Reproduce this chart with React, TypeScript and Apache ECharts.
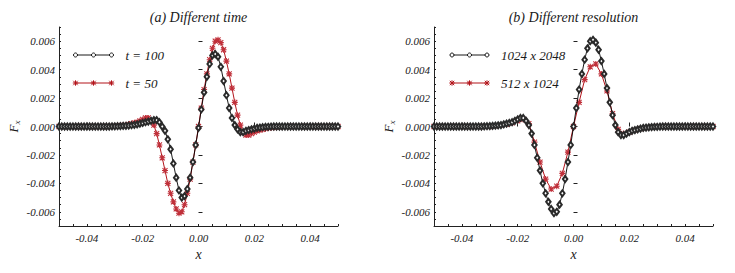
import React, { useEffect, useRef } from 'react';
import * as echarts from 'echarts';

// sampling positions (uniform meshes)
const X_FINE = [
  -0.050, -0.049, -0.048, -0.047, -0.046, -0.045, -0.044, -0.043, -0.042, -0.041,
  -0.040, -0.039, -0.038, -0.037, -0.036, -0.035, -0.034, -0.033, -0.032, -0.031,
  -0.030, -0.029, -0.028, -0.027, -0.026, -0.025, -0.024, -0.023, -0.022, -0.021,
  -0.020, -0.019, -0.018, -0.017, -0.016, -0.015, -0.014, -0.013, -0.012, -0.011,
  -0.010, -0.009, -0.008, -0.007, -0.006, -0.005, -0.004, -0.003, -0.002, -0.001,
  0.000, 0.001, 0.002, 0.003, 0.004, 0.005, 0.006, 0.007, 0.008, 0.009,
  0.010, 0.011, 0.012, 0.013, 0.014, 0.015, 0.016, 0.017, 0.018, 0.019,
  0.020, 0.021, 0.022, 0.023, 0.024, 0.025, 0.026, 0.027, 0.028, 0.029,
  0.030, 0.031, 0.032, 0.033, 0.034, 0.035, 0.036, 0.037, 0.038, 0.039,
  0.040, 0.041, 0.042, 0.043, 0.044, 0.045, 0.046, 0.047, 0.048, 0.049,
  0.050,
];
const X_COARSE = [
  -0.050, -0.048, -0.046, -0.044, -0.042, -0.040, -0.038, -0.036, -0.034, -0.032,
  -0.030, -0.028, -0.026, -0.024, -0.022, -0.020, -0.018, -0.016, -0.014, -0.012,
  -0.010, -0.008, -0.006, -0.004, -0.002, 0.000, 0.002, 0.004, 0.006, 0.008,
  0.010, 0.012, 0.014, 0.016, 0.018, 0.020, 0.022, 0.024, 0.026, 0.028,
  0.030, 0.032, 0.034, 0.036, 0.038, 0.040, 0.042, 0.044, 0.046, 0.048,
  0.050,
];

// (a) Different time
const T100 = [
  0, 0, 0, 0, 0, 0, 0, 0, 0, 0,
  0, 0, 0, 0, 0, 0, 0, 0, 0, 0.00001,
  0.00001, 0.00002, 0.00003, 0.00004, 0.00005, 0.00007, 0.00009, 0.00012, 0.00015, 0.0002,
  0.00025, 0.0003, 0.00035, 0.0004, 0.00045, 0.00045, 0.0003, 0.0, -0.0003, -0.0009,
  -0.0016, -0.0026, -0.0036, -0.0045, -0.0050, -0.0049, -0.0044, -0.0036, -0.0025, -0.0013,
  -0.0001, 0.0012, 0.0024, 0.0035, 0.0044, 0.0050, 0.0051, 0.0049, 0.0042, 0.0032,
  0.0022, 0.0013, 0.0006, 0.0001, -0.0002, -0.0004, -0.0004, -0.0003, -0.00025, -0.0002,
  -0.00015, -0.0001, -0.00008, -0.00005, -0.00003, -0.00002, -0.00001, 0, 0, 0,
  0, 0, 0, 0, 0, 0, 0, 0, 0, 0,
  0, 0, 0, 0, 0, 0, 0, 0, 0, 0,
  0,
];
const T50 = [
  0, 0, 0, 0, 0, 0, 0, 0, 0, 0,
  0, 0, 0, 0, 0, 0, 0, 0, 0.00001, 0.00002,
  0.00003, 0.00004, 0.00006, 0.00008, 0.0001, 0.00015, 0.0002, 0.00025, 0.0003, 0.0004,
  0.0005, 0.0006, 0.0006, 0.0004, 0.0001, -0.0005, -0.0013, -0.0022, -0.0031, -0.0040,
  -0.0047, -0.0053, -0.0058, -0.0061, -0.0060, -0.0055, -0.0047, -0.0037, -0.0025, -0.0013,
  0.0, 0.0013, 0.0026, 0.0037, 0.0047, 0.0055, 0.0060, 0.0061, 0.0059, 0.0054,
  0.0046, 0.0037, 0.0027, 0.0017, 0.0008, 0.0001, -0.0004, -0.0006, -0.0006, -0.0005,
  -0.0004, -0.0003, -0.00025, -0.0002, -0.00015, -0.0001, -0.00008, -0.00006, -0.00004, -0.00003,
  -0.00002, -0.00001, 0, 0, 0, 0, 0, 0, 0, 0,
  0, 0, 0, 0, 0, 0, 0, 0, 0, 0,
  0,
];

// (b) Different resolution
const RES_1024 = [
  0, 0, 0, 0, 0, 0, 0, 0, 0, 0,
  0, 0, 0, 0, 0, 0, 0, 0, 0.00001, 0.00002,
  0.00003, 0.00004, 0.00006, 0.00008, 0.0001, 0.00015, 0.0002, 0.00025, 0.0003, 0.0004,
  0.0005, 0.0006, 0.0006, 0.0004, 0.0001, -0.0005, -0.0013, -0.0022, -0.0031, -0.0040,
  -0.0047, -0.0053, -0.0058, -0.0061, -0.0060, -0.0055, -0.0047, -0.0037, -0.0025, -0.0013,
  0.0, 0.0013, 0.0026, 0.0037, 0.0047, 0.0055, 0.0060, 0.0061, 0.0059, 0.0054,
  0.0046, 0.0037, 0.0027, 0.0017, 0.0008, 0.0001, -0.0004, -0.0006, -0.0006, -0.0005,
  -0.0004, -0.0003, -0.00025, -0.0002, -0.00015, -0.0001, -0.00008, -0.00006, -0.00004, -0.00003,
  -0.00002, -0.00001, 0, 0, 0, 0, 0, 0, 0, 0,
  0, 0, 0, 0, 0, 0, 0, 0, 0, 0,
  0,
];
const RES_512 = [
  0, 0, 0, 0, 0, 0, 0, 0, 0, 0,
  0, 0.00003, 0.0001, 0.00015, 0.00025, 0.0004, 0.0005, 0.0002, -0.0011, -0.0025,
  -0.0037, -0.0044, -0.0042, -0.0033, -0.0018, 0.0, 0.0017, 0.0033, 0.0042, 0.0044,
  0.0037, 0.0025, 0.0009, -0.0002, -0.0005, -0.0004, -0.00025, -0.00015, -0.0001, -0.00003,
  0, 0, 0, 0, 0, 0, 0, 0, 0, 0,
  0,
];

const X_MAJOR_TICKS = [-0.04, -0.02, 0, 0.02, 0.04];
const Y_MAJOR_TICKS = [-0.006, -0.004, -0.002, 0, 0.002, 0.004, 0.006];
const TITLES = ['(a) Different time', '(b) Different resolution'];
const LEGEND_A = ['t = 100', 't = 50'];
const LEGEND_B = ['1024 x 2048', '512 x 1024'];

const FONT = 'Liberation Serif';
const BLACK = '#000000';
const RED = '#b3141b';
const AXIS = '#222222';
const TEXT = '#1a1a1a';
const ASTERISK = 'path://M0,0L10,10M10,0L0,10M5,-1L5,11M-1,5L11,5';

const GRIDS = [
  { left: 59, top: 27, width: 279, height: 199 },
  { left: 434, top: 27, width: 279, height: 199 },
];

const pairs = (xs: number[], ys: number[]) => xs.map((x, i) => [x, ys[i]]);
const isMult = (v: number, step: number) => Math.abs(v / step - Math.round(v / step)) < 1e-6;
const fmt = (v: number, d: number) => (Math.abs(v) < 1e-12 ? (0).toFixed(d) : v.toFixed(d));

const labelStyle = { fontFamily: FONT, fontStyle: 'italic', fontSize: 11, color: TEXT };

function xMain(g: number) {
  return {
    type: 'value', gridIndex: g, min: -0.05, max: 0.05, interval: 0.005, position: 'bottom',
    axisLine: { show: true, onZero: false, lineStyle: { color: AXIS, width: 1 } },
    axisTick: { show: true, inside: true, length: 2, lineStyle: { color: AXIS, width: 1 } },
    axisLabel: { ...labelStyle, margin: 6, formatter: (v: number) => (isMult(v, 0.02) ? fmt(v, 2) : '') },
    splitLine: { show: false },
    name: 'x', nameLocation: 'middle', nameGap: 15,
    nameTextStyle: { fontFamily: FONT, fontStyle: 'italic', fontSize: 14, color: TEXT },
  };
}
function xMajor(g: number) {
  return {
    type: 'value', gridIndex: g, min: -0.05, max: 0.05, position: 'bottom',
    axisLine: { show: false },
    axisTick: { show: true, inside: true, length: 4, customValues: X_MAJOR_TICKS, lineStyle: { color: AXIS, width: 1 } },
    axisLabel: { show: false },
    splitLine: { show: false },
  };
}
function yMain(g: number) {
  return {
    type: 'value', gridIndex: g, min: -0.007, max: 0.007, interval: 0.0005, position: 'left',
    axisLine: { show: true, onZero: false, lineStyle: { color: AXIS, width: 1 } },
    axisTick: { show: true, inside: true, length: 2, lineStyle: { color: AXIS, width: 1 } },
    axisLabel: { ...labelStyle, margin: 4, formatter: (v: number) => (isMult(v, 0.002) ? fmt(v, 3) : '') },
    splitLine: { show: false },
    name: '{a|F}{b|x}', nameLocation: 'middle', nameGap: 38, nameRotate: 90,
    nameTextStyle: {
      rich: {
        a: { fontFamily: FONT, fontStyle: 'italic', fontSize: 13, color: TEXT },
        b: { fontFamily: FONT, fontStyle: 'italic', fontSize: 9, color: TEXT, padding: [7, 0, 0, 0] },
      },
    },
  };
}
function yMajor(g: number) {
  return {
    type: 'value', gridIndex: g, min: -0.007, max: 0.007, position: 'left',
    axisLine: { show: false },
    axisTick: { show: true, inside: true, length: 4, customValues: Y_MAJOR_TICKS, lineStyle: { color: AXIS, width: 1 } },
    axisLabel: { show: false },
    splitLine: { show: false },
  };
}

function blackSeries(axis: number, xs: number[], ys: number[]) {
  return {
    type: 'line', xAxisIndex: axis, yAxisIndex: axis, data: pairs(xs, ys),
    symbol: 'emptyDiamond', symbolSize: [4.5, 6],
    lineStyle: { color: BLACK, width: 0.9 },
    itemStyle: { color: '#2a2a2a', borderColor: '#2a2a2a', borderWidth: 0.7 },
    z: 4, silent: true,
  };
}
function redSeries(axis: number, xs: number[], ys: number[]) {
  return {
    type: 'line', xAxisIndex: axis, yAxisIndex: axis, data: pairs(xs, ys),
    symbol: ASTERISK, symbolSize: 6,
    lineStyle: { color: RED, width: 1 },
    itemStyle: { color: RED, borderColor: '#c0303a', borderWidth: 1.1 },
    z: 3, silent: true,
  };
}

function asterisk(cx: number, cy: number, r: number) {
  return [
    { type: 'line', shape: { x1: cx - r, y1: cy - r, x2: cx + r, y2: cy + r }, style: { stroke: RED, lineWidth: 1 } },
    { type: 'line', shape: { x1: cx - r, y1: cy + r, x2: cx + r, y2: cy - r }, style: { stroke: RED, lineWidth: 1 } },
    { type: 'line', shape: { x1: cx, y1: cy - r - 0.5, x2: cx, y2: cy + r + 0.5 }, style: { stroke: RED, lineWidth: 1 } },
    { type: 'line', shape: { x1: cx - r - 0.5, y1: cy, x2: cx + r + 0.5, y2: cy }, style: { stroke: RED, lineWidth: 1 } },
  ];
}

function legendBlock(x0: number, x1: number, tx: number, labels: string[]) {
  const ys = [55, 83];
  const xs = [x0, (x0 + x1) / 2, x1];
  const els: any[] = [];
  els.push({ type: 'line', shape: { x1: x0, y1: ys[0], x2: x1, y2: ys[0] }, style: { stroke: BLACK, lineWidth: 0.9 } });
  xs.forEach((x) => els.push({ type: 'circle', shape: { cx: x, cy: ys[0], r: 2 }, style: { fill: '#fff', stroke: BLACK, lineWidth: 0.9 } }));
  els.push({ type: 'line', shape: { x1: x0, y1: ys[1], x2: x1, y2: ys[1] }, style: { stroke: RED, lineWidth: 1 } });
  xs.forEach((x) => els.push(...asterisk(x, ys[1], 2.2)));
  labels.forEach((t, i) =>
    els.push({
      type: 'text', x: tx, y: ys[i],
      style: { text: t, fill: TEXT, fontFamily: FONT, fontStyle: 'italic', fontSize: 13, align: 'left', verticalAlign: 'middle' },
    })
  );
  return els;
}

export default function App() {
  const ref = useRef<HTMLDivElement>(null);
  useEffect(() => {
    if (!ref.current) return;
    const chart = echarts.init(ref.current, undefined, { renderer: 'svg' });
    const titleStyle = { fill: TEXT, fontFamily: FONT, fontStyle: 'italic', fontSize: 14, align: 'center', verticalAlign: 'middle' };
    const graphic: any[] = [
      { type: 'text', x: 198.5, y: 17, style: { text: TITLES[0], ...titleStyle } },
      { type: 'text', x: 573.5, y: 17, style: { text: TITLES[1], ...titleStyle } },
      ...legendBlock(75.5, 111.5, 125.5, LEGEND_A),
      ...legendBlock(452, 487, 501, LEGEND_B),
    ];
    chart.setOption({
      animation: false,
      backgroundColor: '#ffffff',
      textStyle: { fontFamily: FONT },
      grid: GRIDS,
      xAxis: [xMain(0), xMajor(0), xMain(1), xMajor(1)],
      yAxis: [yMain(0), yMajor(0), yMain(1), yMajor(1)],
      series: [
        redSeries(0, X_FINE, T50),
        blackSeries(0, X_FINE, T100),
        redSeries(2, X_COARSE, RES_512),
        blackSeries(2, X_FINE, RES_1024),
      ],
      graphic,
    });
    return () => chart.dispose();
  }, []);
  return <div ref={ref} style={{ position: 'absolute', left: 0, top: 0, width: 735, height: 273 }} />;
}
